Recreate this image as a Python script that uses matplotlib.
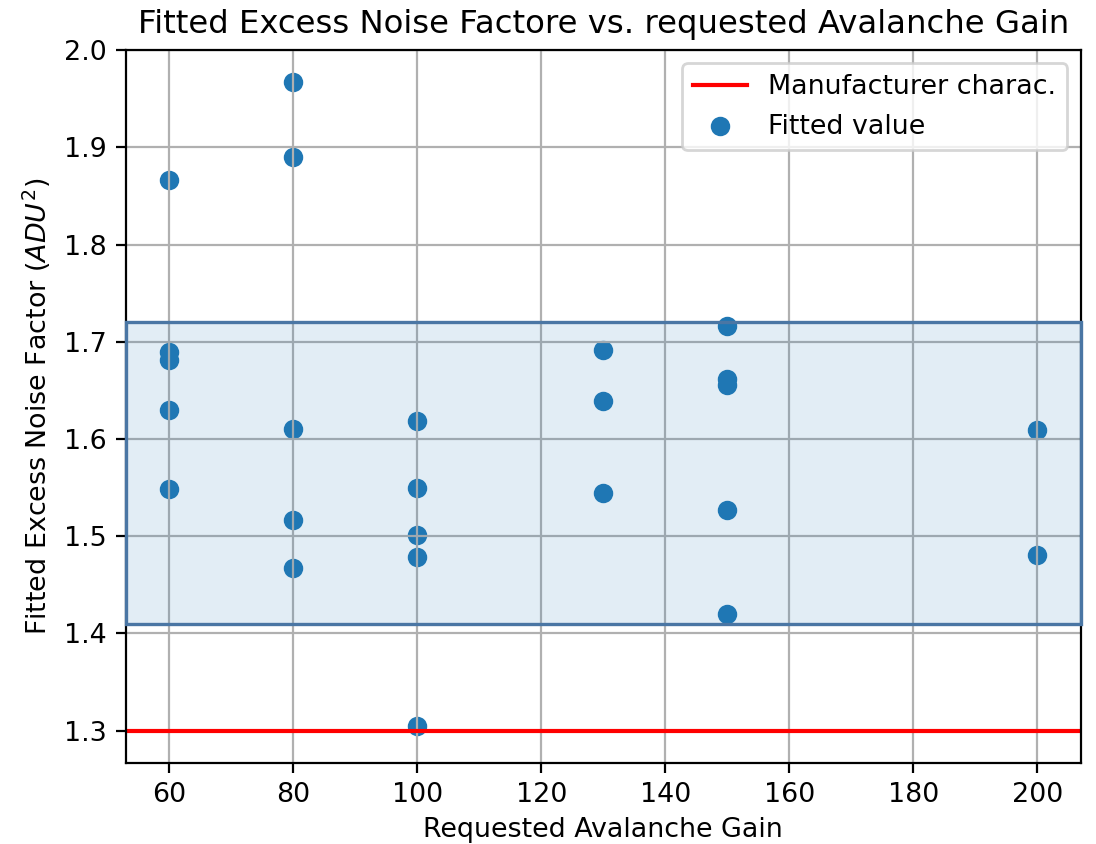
import matplotlib
matplotlib.use('Agg')
import matplotlib.pyplot as plt

# Mõõdetud väärtused (loetud pildilt)
gain = [60, 60, 60, 60, 60,
        80, 80, 80, 80, 80,
        100, 100, 100, 100, 100,
        130, 130, 130,
        150, 150, 150, 150, 150,
        200, 200]
enf = [1.866, 1.689, 1.681, 1.630, 1.548,
       1.967, 1.890, 1.610, 1.517, 1.467,
       1.618, 1.550, 1.501, 1.479, 1.305,
       1.692, 1.639, 1.544,
       1.716, 1.662, 1.655, 1.527, 1.420,
       1.609, 1.481]
manufacturer = 1.3
band_low, band_high = 1.41, 1.72

plt.rcParams['font.size'] = 9.7

fig = plt.figure(figsize=(5.48, 4.22), dpi=200)
ax = fig.add_axes([0.115, 0.096, 0.871, 0.845])

# Lubatud vahemik - joonistatakse ruudustiku peale nagu originaalis
ax.axhspan(band_low, band_high, facecolor=(0.12, 0.47, 0.71, 0.13),
           edgecolor='#4a76a4', linewidth=1.2, zorder=3, clip_on=False)
ax.axhline(manufacturer, color='red', linewidth=1.5, label='Manufacturer charac.')
ax.scatter(gain, enf, color='#1f77b4', s=36, label='Fitted value')

ax.grid(True)
ax.set_title('Fitted Excess Noise Factore vs. requested Avalanche Gain', fontsize=11.65)
ax.set_xlabel('Requested Avalanche Gain', labelpad=3)
ax.set_ylabel('Fitted Excess Noise Factor ($ADU^2$)')
ax.legend(loc='upper right')

fig.savefig('out.png', dpi=200)
